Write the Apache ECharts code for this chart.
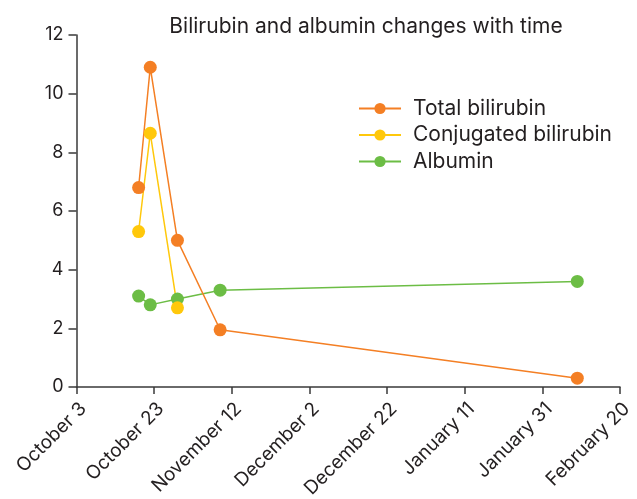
<!DOCTYPE html>
<html><head><meta charset="utf-8">
<script src="https://cdn.jsdelivr.net/npm/echarts@6/dist/echarts.min.js"></script>
<style>html,body{margin:0;padding:0;background:#fff}#c{width:637px;height:499px}</style>
</head><body><div id="c"></div>
<script>
var startDate = '2019-10-03';
var xTickCount = 8; // Oct 3 .. Feb 20, every 20 days
var monthNames = ['January','February','March','April','May','June','July','August','September','October','November','December'];

var totalDates = ['2019-10-19','2019-10-22','2019-10-29','2019-11-09','2020-02-09'];
var totalValues = [6.8, 10.9, 5.0, 1.95, 0.3];

var conjDates = ['2019-10-19','2019-10-22','2019-10-29'];
var conjValues = [5.3, 8.65, 2.7];

var albDates = ['2019-10-19','2019-10-22','2019-10-29','2019-11-09','2020-02-09'];
var albValues = [3.1, 2.8, 3.0, 3.3, 3.6];

var DAY = 86400000;
var t0 = Date.parse(startDate + 'T00:00:00Z');
function dayOf(s){ return Math.round((Date.parse(s + 'T00:00:00Z') - t0) / DAY); }
function pairs(ds, vs){ return ds.map(function(d,i){ return [dayOf(d), vs[i]]; }); }
function fmt(v){ var d = new Date(t0 + v*DAY); return monthNames[d.getUTCMonth()] + ' ' + d.getUTCDate(); }

var FONT = 'Inter';
var TXT = '#231f20';
var AX = '#3a3a3a';
var chart = echarts.init(document.getElementById('c'));
function ser(name, color, data){
  return {name:name, type:'line', data:data, symbol:'circle', symbolSize:13,
    lineStyle:{color:color, width:1.5}, itemStyle:{color:color}, z: 2};
}
chart.setOption({
  animation:false,
  textStyle:{fontFamily:FONT},
  title:{text:'Bilirubin and albumin changes with time', left:361, top:11, textAlign:'center',
    textStyle:{fontFamily:FONT, fontSize:21, fontWeight:'normal', color:TXT}},
  legend:{orient:'vertical', left:353, top:93, itemWidth:42, itemHeight:14, itemGap:5.5,
    textStyle:{fontFamily:FONT, fontSize:21, lineHeight:21, color:TXT, padding:[0,0,0,7]},
    data:['Total bilirubin','Conjugated bilirubin','Albumin']},
  grid:{left:76.5, right:17, top:35, bottom:112, containLabel:false, outerBoundsMode:'none'},
  xAxis:{type:'value', min:0, max:20*(xTickCount-1), interval:20,
    axisLine:{lineStyle:{color:AX, width:1.5}},
    axisTick:{show:true, length:7, lineStyle:{color:AX, width:1.5}},
    splitLine:{show:false},
    axisLabel:{rotate:45, verticalAlign:'top', formatter:fmt, fontFamily:FONT, fontSize:19, color:TXT, margin:12}},
  yAxis:{type:'value', min:0, max:12, interval:2,
    axisLine:{show:true, lineStyle:{color:AX, width:1.5}},
    axisTick:{show:true, length:8, lineStyle:{color:AX, width:1.5}},
    splitLine:{show:false},
    axisLabel:{fontFamily:FONT, fontSize:18, color:TXT, margin:13}},
  series:[
    ser('Albumin', '#6cbd45', pairs(albDates, albValues)),
    ser('Conjugated bilirubin', '#ffc80b', pairs(conjDates, conjValues)),
    ser('Total bilirubin', '#f47f24', pairs(totalDates, totalValues))
  ]
});
</script></body></html>
